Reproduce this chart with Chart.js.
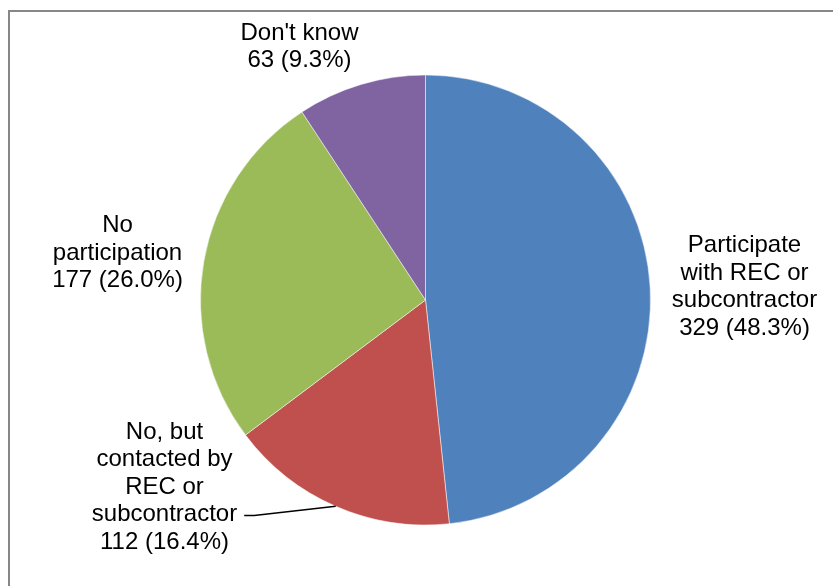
<!DOCTYPE html>
<html>
<head>
  <meta charset="UTF-8">
  <script src="https://cdn.jsdelivr.net/npm/chart.js"></script>
  <style>
    body { margin: 0; background: #fff; overflow: hidden; }
    .frame {
      position: absolute; left: 8px; top: 10px;
      width: 900px; height: 700px;
      border: 2px solid #878787;
    }
    .chart-container {
      position: absolute; left: 0; top: 0;
      width: 833px; height: 586px;
    }
  </style>
</head>
<body>
  <div class="frame"></div>
  <div class="chart-container">
    <canvas id="pieChart"></canvas>
  </div>

  <script>
    const categories = [
      ['Participate', 'with REC or', 'subcontractor'],
      ['No, but', 'contacted by', 'REC or', 'subcontractor'],
      ['No', 'participation'],
      ["Don't know"]
    ];
    const counts = [329, 112, 177, 63];
    const percents = ['48.3%', '16.4%', '26.0%', '9.3%'];
    const sliceColors = ['#4F81BD', '#C0504D', '#9BBB59', '#8064A2'];

    // label block centres, relative to the pie centre
    const labelOffsets = [[319, -13], [-261, 187], [-308, -47], [-126, -253]];
    const lineHeight = 27.5;

    const pieLabels = {
      id: 'pieLabels',
      afterDatasetsDraw(chart) {
        const ctx = chart.ctx;
        const arcs = chart.getDatasetMeta(0).data;
        ctx.save();
        ctx.font = '24px "Liberation Sans", Arial, sans-serif';
        ctx.fillStyle = '#000';
        ctx.textAlign = 'center';
        ctx.textBaseline = 'middle';
        arcs.forEach((arc, i) => {
          const lines = categories[i].concat([counts[i] + ' (' + percents[i] + ')']);
          const cx = arc.x + labelOffsets[i][0];
          const cy = arc.y + labelOffsets[i][1];
          const top = cy - (lines.length - 1) * lineHeight / 2;
          lines.forEach((t, k) => ctx.fillText(t, cx, top + k * lineHeight));

          // leader line for the small bottom slice
          if (i === 1) {
            const mid = (arc.startAngle + arc.endAngle) / 2;
            const ex = arc.x + Math.cos(mid) * arc.outerRadius;
            const ey = arc.y + Math.sin(mid) * arc.outerRadius;
            const row = 3;
            const ly = top + row * lineHeight + 1;
            const tw = ctx.measureText(lines[row]).width;
            const lx = cx + tw / 2 + 7;
            ctx.beginPath();
            ctx.strokeStyle = '#000';
            ctx.lineWidth = 1.5;
            ctx.moveTo(lx, ly);
            ctx.lineTo(lx + 10, ly);
            ctx.lineTo(ex, ey);
            ctx.stroke();
          }
        });
        ctx.restore();
      }
    };

    new Chart(document.getElementById('pieChart'), {
      type: 'pie',
      data: {
        labels: categories.map(c => c.join(' ')),
        datasets: [{
          data: counts,
          backgroundColor: sliceColors,
          borderColor: 'rgba(255,255,255,0.5)',
          borderWidth: 1
        }]
      },
      options: {
        responsive: true,
        maintainAspectRatio: false,
        animation: false,
        layout: { padding: { left: 200, right: 182, top: 74, bottom: 60 } },
        plugins: {
          legend: { display: false },
          tooltip: { enabled: false }
        }
      },
      plugins: [pieLabels]
    });
  </script>
</body>
</html>
